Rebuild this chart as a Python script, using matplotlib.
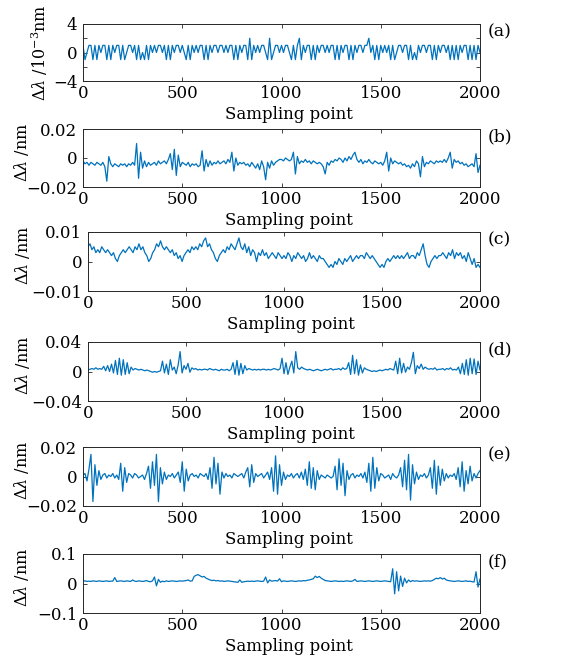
import numpy as np
import matplotlib
matplotlib.use("Agg")
import matplotlib.pyplot as plt

plt.rcParams['font.family'] = ['DejaVu Serif']
plt.rcParams['mathtext.fontset'] = 'dejavuserif'

# ---------------- data (values in 1e-3 nm, one value every 10 sampling points) ----------------
series_a = [1,-1,0,1,1,-1,1,-1,1,0,1,1,-1,1,-1,1,0,1,1,-1,
            1,-1,0,1,1,0,1,-1,1,-1,0,-1,1,-1,1,0,1,0,1,1,
            0,1,-1,1,-1,1,0,1,1,0,1,0,-1,1,-1,1,0,1,0,1,
            1,-1,1,-1,1,0,1,1,0,1,1,0,1,0,1,1,-1,1,-1,1,
            0,1,1,-1,2,-1,1,0,1,0,1,1,0,-1,2,-1,0,1,1,0,
            1,0,1,1,0,-1,1,-1,1,2,-1,1,0,1,1,-1,1,-1,1,0,
            1,1,0,1,0,1,1,-1,1,-1,1,0,1,1,-1,1,-1,1,0,1,
            1,0,1,1,2,0,1,-1,1,-1,1,0,1,0,1,-1,1,-1,0,1,
            1,0,1,1,-1,1,-1,0,-1,1,0,1,1,0,1,1,-1,1,-1,1,
            0,1,1,0,1,-1,1,-1,1,-1,1,0,1,1,-1,1,-1,1,-1,1,
            0]

series_b = [-2,-4,-3,-5,-3,-4,-5,-3,-4,-5,-3,-6,-16,1,-4,-6,-4,-5,-6,-4,
            -5,-4,-6,-4,-5,-3,-5,10,-14,4,-7,-2,-6,-3,-5,-4,-3,-5,-2,-4,
            -3,-2,-4,-1,3,-8,6,-12,2,-6,-3,-4,-5,-3,-6,-4,-5,-4,-6,-5,
            5,-9,-1,-6,-2,-5,-3,-4,-2,-4,-3,-2,-4,-1,-3,4,-9,0,-5,-3,
            -4,-3,-5,-4,-6,-3,-5,-7,-4,-8,-2,-6,-15,-3,-7,-2,-5,-3,-2,-1,
            -1,-2,0,-1,-2,-1,4,-11,1,-4,-2,-3,-1,-3,-2,-4,-2,-3,-4,-3,
            -4,-6,-11,-3,-5,-2,-3,-1,-2,0,-1,-3,0,-2,1,-1,2,4,-1,-3,
            -1,-4,-2,-3,-1,-3,-4,-2,-3,-4,-3,-5,-2,4,-9,0,-4,-2,-3,-4,
            -3,-5,-4,-6,-5,-7,-4,-6,-2,-4,-13,1,-6,-3,-4,-2,-3,-4,-2,-3,
            -2,-3,-1,-3,0,4,-7,-1,-3,-2,-4,-3,-5,-4,-6,-5,-4,-6,3,-10,
            -5]

series_c = [5,6,4,5,3,4,3,5,4,3,4,3,2,3,1,0,2,3,4,3,
            4,5,4,3,5,4,6,4,5,3,2,0,1,3,4,6,5,7,5,4,
            5,4,3,4,2,3,1,2,0,2,3,4,3,5,4,5,4,6,5,7,
            8,5,6,4,3,1,0,2,3,4,3,5,4,6,5,4,6,8,5,4,
            6,3,5,2,4,3,0,3,2,4,2,3,1,2,3,2,1,3,2,1,
            2,1,3,2,0,2,1,3,2,1,2,0,1,3,1,2,1,0,2,1,
            1,0,-1,-2,-1,-2,0,-1,1,0,-1,1,0,1,2,0,1,2,1,2,
            2,1,3,2,1,2,1,0,-1,-2,-1,-2,0,1,0,1,2,1,2,1,
            2,1,2,3,1,2,2,1,3,2,4,6,2,-1,-2,0,1,2,1,2,
            2,3,2,1,3,2,4,1,3,2,3,1,2,0,3,1,-1,1,-2,-1,
            -2]

series_d = [2,3,4,3,5,3,4,3,7,1,8,0,10,-2,15,-4,18,-5,16,-4,
            12,-3,6,2,4,3,2,3,2,1,2,1,0,-1,0,-1,0,1,14,-2,
            10,-4,16,2,6,-3,9,27,-2,8,3,11,-1,5,3,4,2,3,2,3,
            3,2,4,3,2,3,2,1,3,2,2,3,1,3,12,-4,15,-5,11,-3,
            8,2,4,3,2,3,2,3,2,3,3,2,3,2,3,4,3,2,4,18,
            -3,12,-4,6,14,-2,27,5,3,6,4,3,2,3,2,1,2,3,2,1,
            2,3,2,3,4,2,3,3,4,2,5,3,4,12,-4,22,-3,16,-5,9,
            -2,5,3,2,1,0,1,0,1,2,1,2,3,2,4,3,2,14,-3,18,
            -2,11,-1,6,3,12,26,-3,8,4,10,3,6,4,3,4,3,5,2,3,
            3,4,2,4,3,5,2,3,2,6,-3,11,-4,16,-5,18,-3,17,-4,14,
            2]

series_e = [1,2,-3,5,15,-17,8,-6,4,-2,1,2,-1,1,0,2,-1,1,-2,9,
            -10,6,-4,2,1,-1,2,1,-1,0,1,-2,2,7,-8,10,-6,15,-17,6,
            -5,3,-2,1,0,2,-1,1,3,-4,10,-10,5,-3,1,2,0,1,-1,2,
            1,0,2,-2,6,-8,13,-5,9,-12,3,-1,2,0,1,-1,2,1,0,1,
            2,-1,3,6,-7,8,-4,2,0,1,2,-1,1,3,-2,6,-10,14,-12,8,
            -6,3,-2,1,0,2,-1,1,2,-1,3,-2,5,-6,10,-8,6,-9,4,-2,
            1,0,-1,1,0,-1,0,7,-9,12,-6,9,-13,4,-2,1,2,-1,1,0,
            2,-1,3,-4,9,-10,13,-8,6,-3,2,1,-1,0,1,-2,2,0,-1,1,
            6,-7,11,-9,15,-16,8,-5,3,-2,1,0,2,-1,1,6,-8,11,-12,7,
            -6,5,-3,2,-1,1,0,2,-2,6,-7,10,-10,4,-5,7,-3,2,-1,2,
            4]

series_f = [8,9,7,8,7,9,8,7,9,8,7,8,9,7,8,8,20,7,8,9,
            8,7,9,8,7,12,8,7,9,8,7,8,10,7,6,9,22,-8,14,4,
            8,6,9,7,8,9,8,7,8,9,8,9,10,12,8,9,24,28,30,26,
            22,24,18,15,12,10,11,9,10,8,9,7,8,9,8,7,6,5,4,12,
            4,6,7,8,7,8,7,8,9,8,7,8,22,2,12,8,9,10,8,16,
            6,9,8,7,8,9,8,7,8,9,8,10,9,11,12,14,16,25,20,24,
            18,14,10,9,8,7,8,9,8,7,8,7,8,9,8,7,9,14,7,8,
            9,8,7,8,9,8,7,8,9,8,7,8,9,8,7,6,50,-35,40,-25,
            25,-10,18,2,12,6,10,8,9,8,7,8,9,8,9,8,10,14,18,16,
            20,15,18,12,10,9,8,7,8,9,8,7,8,9,7,8,6,5,40,-12,
            15]

panel_letters = ['(a)', '(b)', '(c)', '(d)', '(e)', '(f)']
ylabels = [r'$\Delta\lambda$ /10$^{-3}$nm', r'$\Delta\lambda$ /nm', r'$\Delta\lambda$ /nm',
           r'$\Delta\lambda$ /nm', r'$\Delta\lambda$ /nm', r'$\Delta\lambda$ /nm']
scales = [1.0, 1e-3, 1e-3, 1e-3, 1e-3, 1e-3]
yticks = [[-4, 0, 4], [-0.02, 0, 0.02], [-0.01, 0, 0.01],
          [-0.04, 0, 0.04], [-0.02, 0, 0.02], [-0.1, 0, 0.1]]
yticklabels = [['\u22124', '0', '4'], ['\u22120.02', '0', '0.02'], ['\u22120.01', '0', '0.01'],
               ['\u22120.04', '0', '0.04'], ['\u22120.02', '0', '0.02'], ['\u22120.1', '0', '0.1']]
yminor = [[-2, 2], [], [], [], [], []]
xticks = [0, 500, 1000, 1500, 2000]
xticklabels = ['0', '500', '1000', '1500', '2000']
n_samples = 2000
all_series = [series_a, series_b, series_c, series_d, series_e, series_f]

# ---------------- layout (pixels) ----------------
W, H = 566, 657
boxes = [(83, 24, 81), (83, 129, 187), (88, 232, 291),
         (88, 342, 401), (83, 447, 506), (83, 554, 613)]
right_px = 480
ylabel_x_px = [40, 22, 22, 22, 22, 22]
ylabel_y_frac = [0.5, 0.6, 0.6, 0.6, 0.6, 0.6]

fig = plt.figure(figsize=(W / 100, H / 100), dpi=100)
line_color = '#0072BD'
frame_color = '#262626'
fs = 12

for i, (vals, (lx, ty, by)) in enumerate(zip(all_series, boxes)):
    wpx = right_px - lx
    hpx = by - ty
    ax = fig.add_axes([lx / W, 1 - by / H, wpx / W, hpx / H])
    v = np.asarray(vals, dtype=float) * scales[i]
    x = np.linspace(0, n_samples, len(v))
    ax.plot(x, v, color=line_color, lw=0.9)
    ax.set_xlim(0, n_samples)
    ax.set_ylim(yticks[i][0], yticks[i][-1])
    ax.set_xticks(xticks)
    ax.set_xticklabels(xticklabels)
    ax.set_yticks(yticks[i])
    ax.set_yticklabels(yticklabels[i])
    if yminor[i]:
        ax.set_yticks(yminor[i], minor=True)
    ax.tick_params(axis='both', which='both', direction='in', top=True, right=True,
                   length=3, width=0.6, color=frame_color, labelsize=fs)
    ax.tick_params(axis='x', pad=3)
    ax.tick_params(axis='y', pad=4)
    for s in ax.spines.values():
        s.set_color(frame_color)
        s.set_linewidth(0.7)
    ax.set_xlabel('Sampling point', fontsize=fs)
    ax.xaxis.set_label_coords(0.5 + 7 / wpx, -25 / hpx)
    ax.set_ylabel(ylabels[i], fontsize=11.5)
    ax.yaxis.label.set_verticalalignment('center')
    ax.yaxis.set_label_coords((ylabel_x_px[i] - lx) / wpx, ylabel_y_frac[i])
    ax.text(1.02, 1 - 8 / hpx, panel_letters[i], transform=ax.transAxes,
            ha='left', va='center', fontsize=12.5)

fig.savefig('out.png', dpi=100)
